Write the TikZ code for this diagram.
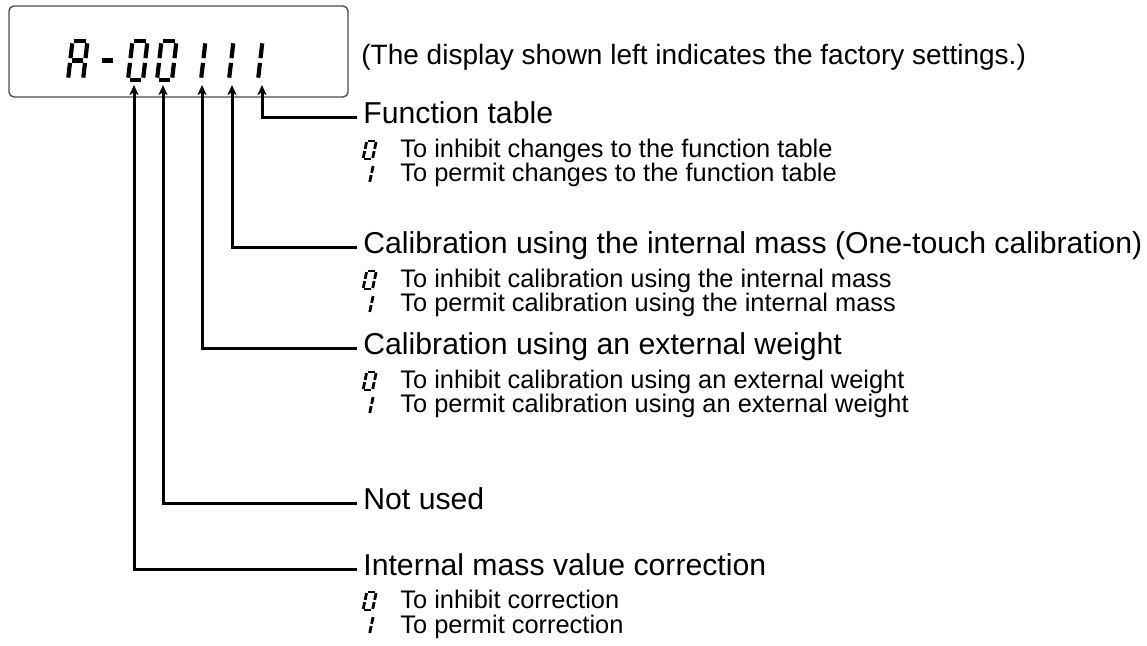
\documentclass[tikz,border=0pt]{standalone}
\usepackage{fontspec}
\setmainfont{Liberation Sans}
\usetikzlibrary{arrows.meta}

% segments of a seven-segment digit, unit cell 1 wide and 2 high
\newcommand{\segA}{(0.12,2)--(0.88,2)}
\newcommand{\segB}{(1,1.88)--(1,1.12)}
\newcommand{\segC}{(1,0.88)--(1,0.12)}
\newcommand{\segD}{(0.12,0)--(0.88,0)}
\newcommand{\segE}{(0,0.88)--(0,0.12)}
\newcommand{\segF}{(0,1.88)--(0,1.12)}
\newcommand{\segG}{(0.12,1)--(0.88,1)}
\newcommand{\segdigit}[3]{%
  \begin{scope}[shift={#1}, #2]
    \foreach \s in {#3} {%
      \expandafter\let\expandafter\segpath\csname seg\s\endcsname
      \draw[segment] \segpath;}
  \end{scope}}

\begin{document}
\begin{tikzpicture}[x=0.5pt, y=0.5pt,
  segment/.style={line width=2.1pt, line cap=butt},
  bigseg/.style={xscale=15, yscale=19.5, xslant=0.15},
  smallseg/.style={xscale=9.5, yscale=9, xslant=0.2, segment/.style={line width=1.4pt}},
  head/.style={anchor=base west, inner sep=3pt, font=\fontsize{15.1}{18}\selectfont},
  opt/.style={anchor=base west, inner sep=0pt, font=\fontsize{12.7}{15}\selectfont},
  conn/.style={line width=1.5pt, -{Stealth[length=5pt, width=4.5pt, inset=1.3pt]}}]

\useasboundingbox (0,0) rectangle (1147,-646);

% Display
\draw[gray!60!black, line width=0.7pt, rounded corners=2.5pt] (9,-6) rectangle (348,-97);
\segdigit{(68,-80)}{bigseg}{A,B,C,E,F,G}
\segdigit{(98,-80)}{bigseg}{G}
\segdigit{(128,-80)}{bigseg}{A,B,C,D,E,F}
\segdigit{(157,-80)}{bigseg}{A,B,C,D,E,F}
\segdigit{(186,-80)}{bigseg}{B,C}
\segdigit{(214,-80)}{bigseg}{B,C}
\segdigit{(243,-80)}{bigseg}{B,C}

\node[anchor=base west, inner sep=0pt, font=\fontsize{14}{17}\selectfont] (note) at (361,-65)
  {(The display shown left indicates the factory settings.)};

% Arrow tips under the digits
\coordinate (p1) at (134,-85);
\coordinate (p2) at (163,-85);
\coordinate (p3) at (202,-85);
\coordinate (p4) at (232,-85);
\coordinate (p5) at (262,-85);

% Labels
\node[head] (ft) at (357,-124) {Function table};
\node[head] (ci) at (357,-254) {Calibration using the internal mass (One-touch calibration)};
\node[head] (ce) at (357,-355) {Calibration using an external weight};
\node[head] (nu) at (357,-510) {Not used};
\node[head] (mc) at (357,-576) {Internal mass value correction};

% Options
\segdigit{(363,-159)}{smallseg}{A,B,C,D,E,F}
\segdigit{(360,-183)}{smallseg}{B,C}
\node[opt] (ft0) at (400,-158) {To inhibit changes to the function table};
\node[opt] (ft1) at (400,-182) {To permit changes to the function table};

\segdigit{(363,-289)}{smallseg}{A,B,C,D,E,F}
\segdigit{(360,-313)}{smallseg}{B,C}
\node[opt] (ci0) at (400,-288) {To inhibit calibration using the internal mass};
\node[opt] (ci1) at (400,-312) {To permit calibration using the internal mass};

\segdigit{(363,-390)}{smallseg}{A,B,C,D,E,F}
\segdigit{(360,-414)}{smallseg}{B,C}
\node[opt] (ce0) at (400,-389) {To inhibit calibration using an external weight};
\node[opt] (ce1) at (400,-413) {To permit calibration using an external weight};

\segdigit{(363,-610)}{smallseg}{A,B,C,D,E,F}
\segdigit{(360,-634)}{smallseg}{B,C}
\node[opt] (mc0) at (400,-609) {To inhibit correction};
\node[opt] (mc1) at (400,-633) {To permit correction};

% Edges
\draw[conn] ([yshift=3pt]ft.base west) -| (p5);
\draw[conn] ([yshift=3pt]ci.base west) -| (p4);
\draw[conn] ([yshift=3pt]ce.base west) -| (p3);
\draw[conn] ([yshift=3pt]nu.base west) -| (p2);
\draw[conn] ([yshift=3pt]mc.base west) -| (p1);

\end{tikzpicture}
\end{document}
